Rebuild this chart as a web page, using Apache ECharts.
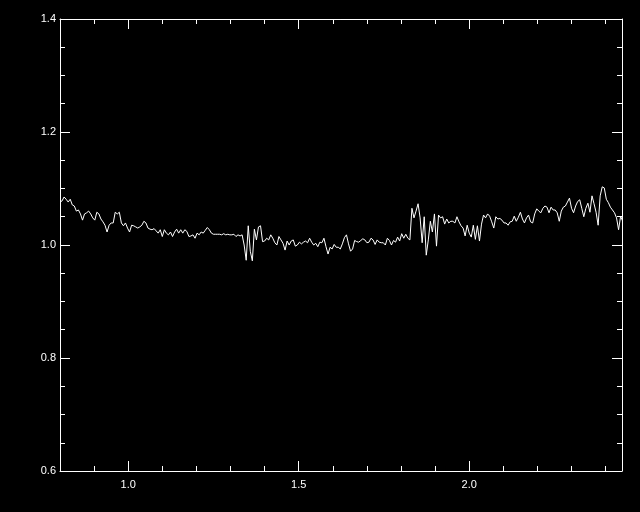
<!DOCTYPE html>
<html>
<head>
<meta charset="utf-8">
<script src="https://cdn.jsdelivr.net/npm/echarts@6/dist/echarts.min.js"></script>
<style>
html,body{margin:0;padding:0;background:#000;}
#chart{width:640px;height:512px;}
</style>
</head>
<body>
<div id="chart"></div>
<script>
// Wavelength grid (microns): first sample and spacing
const waveStart = 0.8;
const waveStep = 0.006;
// Normalised flux, one value per wavelength sample
const flux = [
  1.076, 1.078, 1.085, 1.081, 1.076, 1.081, 1.071, 1.069, 1.060, 1.062,
  1.055, 1.044, 1.055, 1.057, 1.060, 1.055, 1.048, 1.044, 1.058, 1.055,
  1.046, 1.041, 1.035, 1.023, 1.035, 1.039, 1.039, 1.058, 1.055, 1.058,
  1.039, 1.034, 1.039, 1.030, 1.023, 1.035, 1.034, 1.032, 1.030, 1.032,
  1.035, 1.042, 1.039, 1.030, 1.028, 1.027, 1.029, 1.025, 1.021, 1.027,
  1.015, 1.027, 1.021, 1.018, 1.023, 1.015, 1.023, 1.028, 1.021, 1.027,
  1.021, 1.027, 1.024, 1.015, 1.016, 1.018, 1.012, 1.021, 1.018, 1.023,
  1.021, 1.026, 1.031, 1.027, 1.021, 1.019, 1.019, 1.019, 1.019, 1.018,
  1.020, 1.018, 1.019, 1.018, 1.018, 1.019, 1.015, 1.018, 1.016, 1.018,
  1.000, 0.973, 1.034, 0.989, 0.972, 1.028, 1.009, 1.032, 1.034, 1.006,
  1.007, 1.012, 1.009, 1.018, 1.012, 1.004, 1.000, 1.015, 1.009, 1.003,
  0.991, 1.007, 1.000, 1.007, 1.009, 0.998, 1.000, 1.005, 1.002, 1.005,
  1.007, 1.004, 1.012, 1.005, 1.000, 1.003, 0.997, 1.005, 1.004, 1.012,
  0.997, 0.984, 0.996, 0.993, 1.001, 0.996, 0.996, 0.993, 1.002, 1.013,
  1.018, 1.002, 0.989, 0.993, 1.008, 1.006, 1.005, 1.008, 1.011, 1.009,
  1.004, 1.005, 1.012, 1.009, 1.001, 1.009, 1.005, 1.004, 1.004, 1.000,
  1.012, 1.008, 1.000, 1.008, 1.005, 1.014, 1.007, 1.020, 1.012, 1.019,
  1.012, 1.009, 1.065, 1.048, 1.060, 1.073, 1.048, 1.004, 1.050, 0.982,
  1.009, 1.042, 1.023, 1.055, 0.998, 1.053, 1.048, 1.050, 1.037, 1.046,
  1.039, 1.042, 1.042, 1.039, 1.050, 1.041, 1.034, 1.030, 1.016, 1.035,
  1.021, 1.014, 1.035, 1.010, 1.034, 1.007, 1.037, 1.053, 1.048, 1.055,
  1.051, 1.041, 1.030, 1.050, 1.046, 1.047, 1.044, 1.039, 1.039, 1.035,
  1.041, 1.042, 1.051, 1.042, 1.049, 1.058, 1.046, 1.039, 1.048, 1.053,
  1.041, 1.039, 1.055, 1.064, 1.060, 1.057, 1.065, 1.069, 1.067, 1.057,
  1.067, 1.062, 1.062, 1.057, 1.042, 1.060, 1.067, 1.069, 1.076, 1.083,
  1.065, 1.057, 1.069, 1.077, 1.080, 1.065, 1.050, 1.065, 1.074, 1.058,
  1.087, 1.073, 1.058, 1.035, 1.087, 1.103, 1.101, 1.081, 1.075, 1.067,
  1.062, 1.057, 1.048, 1.027, 1.051, 1.042
];
// Axis ranges and ticks
const xMin = 0.8, xMax = 2.448;
const yMin = 0.6, yMax = 1.4, yStep = 0.2;
const xMajorTicks = [1.0, 1.5, 2.0];
const xMinorTicks = [0.9, 1.1, 1.2, 1.3, 1.4, 1.6, 1.7, 1.8, 1.9, 2.1, 2.2, 2.3, 2.4];

const data = flux.map((v, i) => [waveStart + i * waveStep, v]);

const white = '#ffffff';
const labelFont = { color: white, fontFamily: 'Liberation Sans', fontSize: 11 };

function xAx(position, ticks, len, showLine, showLabel) {
  return {
    type: 'value', min: xMin, max: xMax, position: position,
    axisLine: { show: showLine, onZero: false, lineStyle: { color: white, width: 1 } },
    axisTick: { show: true, inside: true, length: len, customValues: ticks, lineStyle: { color: white, width: 1 } },
    axisLabel: Object.assign({ show: showLabel, customValues: xMajorTicks, margin: 8,
      formatter: v => Number(v).toFixed(1) }, labelFont),
    splitLine: { show: false }
  };
}
function yAx(position, showLabel) {
  return {
    type: 'value', min: yMin, max: yMax, interval: yStep, position: position,
    axisLine: { show: true, onZero: false, lineStyle: { color: white, width: 1 } },
    axisTick: { show: true, inside: true, length: 10, lineStyle: { color: white, width: 1 } },
    minorTick: { show: true, splitNumber: 4, length: 5, lineStyle: { color: white, width: 1 } },
    axisLabel: Object.assign({ show: showLabel, margin: 4, formatter: v => Number(v).toFixed(1) }, labelFont),
    splitLine: { show: false }, minorSplitLine: { show: false }
  };
}

const chart = echarts.init(document.getElementById('chart'), null, { renderer: 'canvas' });
chart.setOption({
  backgroundColor: '#000000',
  animation: false,
  grid: { left: 60, right: 18, top: 19, bottom: 41, containLabel: false },
  xAxis: [
    xAx('bottom', xMajorTicks, 10, true, true),
    xAx('bottom', xMinorTicks, 5, false, false),
    xAx('top', xMajorTicks, 10, true, false),
    xAx('top', xMinorTicks, 5, false, false)
  ],
  yAxis: [ yAx('left', true), yAx('right', false) ],
  series: [{
    type: 'line', xAxisIndex: 0, yAxisIndex: 0, data: data,
    showSymbol: false, symbol: 'none', clip: true,
    lineStyle: { color: white, width: 1 }
  }]
});
</script>
</body>
</html>
